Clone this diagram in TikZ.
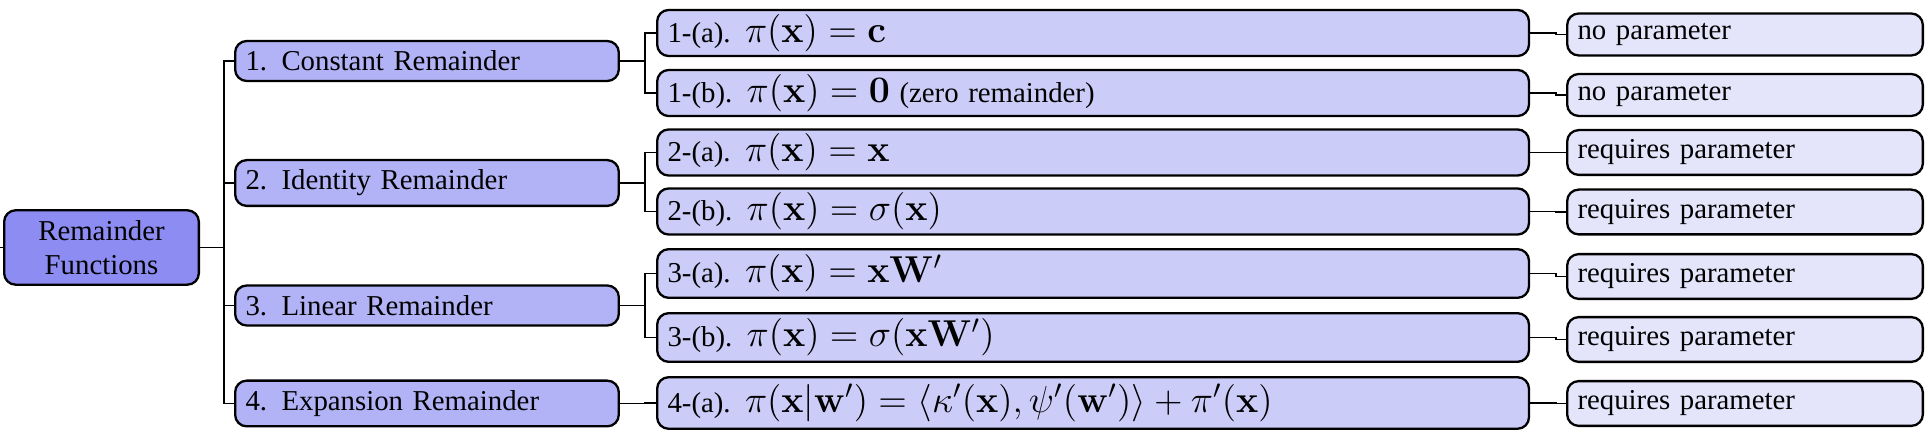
\RequirePackage{fix-cm}
\documentclass[tikz,border=0pt]{standalone}
\usepackage[no-math]{fontspec}
\setmainfont{Liberation Serif}
\usepackage{amsmath}
\DeclareMathSizes{10}{13}{9.1}{6.5}

\definecolor{rootblue}{RGB}{140,140,242}
\definecolor{kindblue}{RGB}{178,178,246}
\definecolor{formblue}{RGB}{204,204,249}
\definecolor{leafblue}{RGB}{228,228,251}

\tikzset{
  box/.style={draw, line width=0.8pt, rounded corners=4pt, inner xsep=3.6pt, inner ysep=3.4pt, align=left, anchor=west},
  rootbox/.style={box, fill=rootblue, text width=60.4pt, align=center},
  kindbox/.style={box, fill=kindblue, text width=126pt},
  formbox/.style={box, fill=formblue, text width=295.5pt, inner ysep=1.5pt},
  leafbox/.style={box, fill=leafblue, text width=116.3pt},
  link/.style={line width=0.6pt}
}

\begin{document}
\begin{tikzpicture}[x=0.3472pt, y=-0.3472pt]
            \useasboundingbox (0,0) rectangle (1930,448);

            % Root
            \coordinate (in) at (0,247.5);
            \node[rootbox] (root) at (3,247.5) {Remainder\\Functions};
            \draw[link] (in) -- (root.west);

            % Kinds
            \node[kindbox] (k1) at (234,61) {1. Constant Remainder};
            \node[kindbox] (k2) at (234,183) {2. Identity Remainder};
            \node[kindbox] (k3) at (234,305.5) {3. Linear Remainder};
            \node[kindbox] (k4) at (234,403.5) {4. Expansion Remainder};
            \foreach \k in {1,2,3,4}
                \draw[link] (root.east) -- ++(24,0) |- (k\k.west);

            % Forms
            \node[formbox] (f1a) at (656,33) {1-(a). $\pi(\mathbf{x}) = \mathbf{c}$};
            \node[formbox] (f1b) at (656,93) {1-(b). $\pi(\mathbf{x}) = \mathbf{0}$ (zero remainder)};
            \node[formbox] (f2a) at (656,152.5) {2-(a). $\pi(\mathbf{x}) = \mathbf{x}$};
            \node[formbox] (f2b) at (656,211.5) {2-(b). $\pi(\mathbf{x}) = \sigma(\mathbf{x})$};
            \node[formbox, minimum height=16.9pt] (f3a) at (656,273.5) {3-(a). $\pi(\mathbf{x}) = \mathbf{x}\mathbf{W}'$};
            \node[formbox, minimum height=16.9pt] (f3b) at (656,337.5) {3-(b). $\pi(\mathbf{x}) = \sigma(\mathbf{x}\mathbf{W}')$};
            \node[formbox, minimum height=17.9pt] (f4a) at (656,403) {4-(a). $\pi(\mathbf{x}|\mathbf{w}') = \langle \kappa'(\mathbf{x}), \psi'(\mathbf{w}') \rangle + \pi'(\mathbf{x})$};
            \foreach \k/\f in {1/1a,1/1b,2/2a,2/2b,3/3a,3/3b,4/4a}
                \draw[link] (k\k.east) -- ++(25,0) |- (f\f.west);

            % Parameters
            \foreach \f/\y/\t in {1a/34.5/no parameter, 1b/95/no parameter,
                    2a/152.5/requires parameter, 2b/212/requires parameter,
                    3a/276.5/requires parameter, 3b/339.5/requires parameter,
                    4a/403.5/requires parameter}
            {
                \node[leafbox] (p\f) at (1566,\y) {\t};
                \draw[link] (f\f.east) -- ++(26,0) |- (p\f.west);
            }
\end{tikzpicture}
\end{document}
